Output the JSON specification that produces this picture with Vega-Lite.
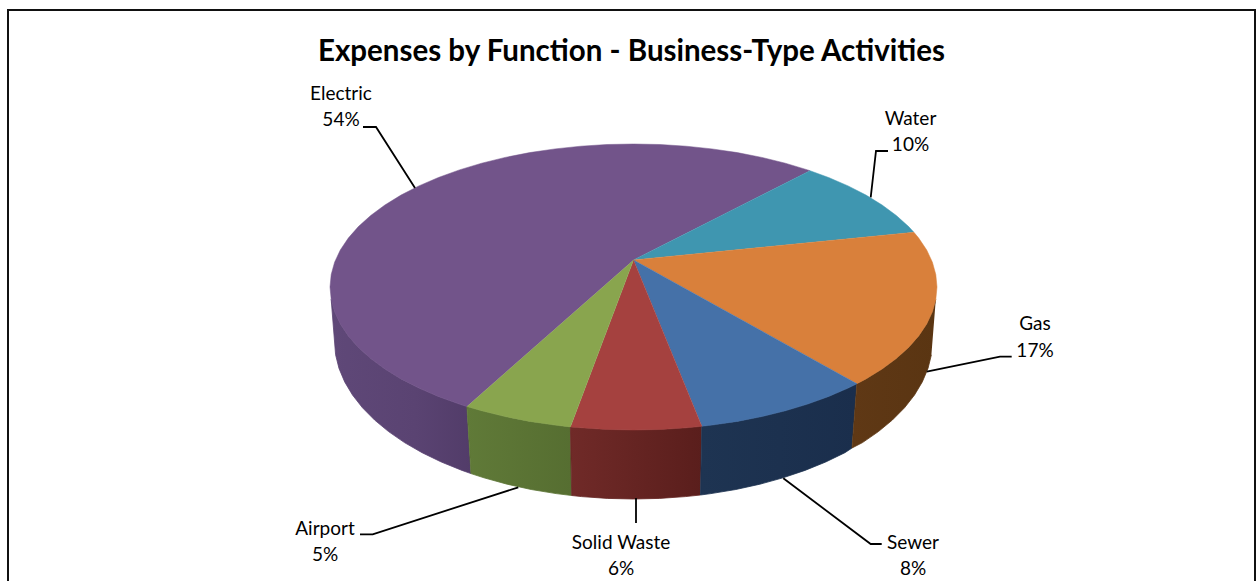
{
"$schema":"https://vega.github.io/schema/vega-lite/v6.json",
"width":1257,"height":581,"padding":0,
"autosize":"none",
"background":"white",
"config":{"view":{"stroke":null}},
"datasets":{
"faces":[
{"s":"Electric","x":0,"y":-27},{"s":"Electric","x":-166.6,"y":119.5},{"s":"Electric","x":-174.1,"y":117.1},{"s":"Electric","x":-195.1,"y":109.5},{"s":"Electric","x":-214.6,"y":101.1},{"s":"Electric","x":-232.5,"y":91.9},{"s":"Electric","x":-248.6,"y":82},{"s":"Electric","x":-262.8,"y":71.5},{"s":"Electric","x":-275.1,"y":60.4},{"s":"Electric","x":-285.2,"y":48.9},{"s":"Electric","x":-293.2,"y":37},{"s":"Electric","x":-298.9,"y":24.8},{"s":"Electric","x":-302.3,"y":12.5},{"s":"Electric","x":-303.5,"y":0},{"s":"Electric","x":-302.3,"y":-12.5},{"s":"Electric","x":-298.9,"y":-24.8},{"s":"Electric","x":-293.2,"y":-37},{"s":"Electric","x":-285.2,"y":-48.9},{"s":"Electric","x":-275.1,"y":-60.4},{"s":"Electric","x":-262.8,"y":-71.5},{"s":"Electric","x":-248.6,"y":-82},{"s":"Electric","x":-232.5,"y":-91.9},{"s":"Electric","x":-214.6,"y":-101.1},{"s":"Electric","x":-195.1,"y":-109.5},{"s":"Electric","x":-174.1,"y":-117.1},{"s":"Electric","x":-151.8,"y":-123.8},{"s":"Electric","x":-128.3,"y":-129.6},{"s":"Electric","x":-103.8,"y":-134.4},{"s":"Electric","x":-78.5,"y":-138.1},{"s":"Electric","x":-52.7,"y":-140.8},{"s":"Electric","x":-26.5,"y":-142.5},{"s":"Electric","x":0,"y":-143},{"s":"Electric","x":26.5,"y":-142.5},{"s":"Electric","x":52.7,"y":-140.8},{"s":"Electric","x":78.5,"y":-138.1},{"s":"Electric","x":103.8,"y":-134.4},{"s":"Electric","x":128.3,"y":-129.6},{"s":"Electric","x":151.8,"y":-123.8},{"s":"Electric","x":174.1,"y":-117.1},{"s":"Electric","x":176.5,"y":-116.3},
{"s":"Water","x":0,"y":-27},{"s":"Water","x":176.5,"y":-116.3},{"s":"Water","x":195.1,"y":-109.5},{"s":"Water","x":214.6,"y":-101.1},{"s":"Water","x":232.5,"y":-91.9},{"s":"Water","x":248.6,"y":-82},{"s":"Water","x":262.8,"y":-71.5},{"s":"Water","x":275.1,"y":-60.4},{"s":"Water","x":280.4,"y":-54.7},
{"s":"Gas","x":0,"y":-27},{"s":"Gas","x":280.4,"y":-54.7},{"s":"Gas","x":285.2,"y":-48.9},{"s":"Gas","x":293.2,"y":-37},{"s":"Gas","x":298.9,"y":-24.8},{"s":"Gas","x":302.3,"y":-12.5},{"s":"Gas","x":303.5,"y":0},{"s":"Gas","x":302.3,"y":12.5},{"s":"Gas","x":298.9,"y":24.8},{"s":"Gas","x":293.2,"y":37},{"s":"Gas","x":285.2,"y":48.9},{"s":"Gas","x":275.1,"y":60.4},{"s":"Gas","x":262.8,"y":71.5},{"s":"Gas","x":248.6,"y":82},{"s":"Gas","x":232.5,"y":91.9},{"s":"Gas","x":223.4,"y":96.8},
{"s":"Sewer","x":0,"y":-27},{"s":"Sewer","x":223.4,"y":96.8},{"s":"Sewer","x":214.6,"y":101.1},{"s":"Sewer","x":195.1,"y":109.5},{"s":"Sewer","x":174.1,"y":117.1},{"s":"Sewer","x":151.8,"y":123.8},{"s":"Sewer","x":128.3,"y":129.6},{"s":"Sewer","x":103.8,"y":134.4},{"s":"Sewer","x":78.5,"y":138.1},{"s":"Sewer","x":68.3,"y":139.3},
{"s":"Solid Waste","x":0,"y":-27},{"s":"Solid Waste","x":68.3,"y":139.3},{"s":"Solid Waste","x":52.7,"y":140.8},{"s":"Solid Waste","x":26.5,"y":142.5},{"s":"Solid Waste","x":0,"y":143},{"s":"Solid Waste","x":-26.5,"y":142.5},{"s":"Solid Waste","x":-52.7,"y":140.8},{"s":"Solid Waste","x":-63.1,"y":139.9},
{"s":"Airport","x":0,"y":-27},{"s":"Airport","x":-63.1,"y":139.9},{"s":"Airport","x":-78.5,"y":138.1},{"s":"Airport","x":-103.8,"y":134.4},{"s":"Airport","x":-128.3,"y":129.6},{"s":"Airport","x":-151.8,"y":123.8},{"s":"Airport","x":-166.6,"y":119.5}
],
"walls":[
{"s":"Gas","x":302.3,"y":12.5},{"s":"Gas","x":298.9,"y":24.8},{"s":"Gas","x":293.2,"y":37},{"s":"Gas","x":285.2,"y":48.9},{"s":"Gas","x":275.1,"y":60.4},{"s":"Gas","x":262.8,"y":71.5},{"s":"Gas","x":248.6,"y":82},{"s":"Gas","x":232.5,"y":91.9},{"s":"Gas","x":223.4,"y":96.8},{"s":"Gas","x":218.5,"y":161},{"s":"Gas","x":229,"y":155.6},{"s":"Gas","x":244.9,"y":144.6},{"s":"Gas","x":258.9,"y":133},{"s":"Gas","x":271,"y":120.8},{"s":"Gas","x":281,"y":108},{"s":"Gas","x":288.8,"y":94.9},{"s":"Gas","x":294.5,"y":81.4},{"s":"Gas","x":297.9,"y":67.8},
{"s":"Sewer","x":223.4,"y":96.8},{"s":"Sewer","x":214.6,"y":101.1},{"s":"Sewer","x":195.1,"y":109.5},{"s":"Sewer","x":174.1,"y":117.1},{"s":"Sewer","x":151.8,"y":123.8},{"s":"Sewer","x":128.3,"y":129.6},{"s":"Sewer","x":103.8,"y":134.4},{"s":"Sewer","x":78.5,"y":138.1},{"s":"Sewer","x":68.3,"y":139.3},{"s":"Sewer","x":67,"y":208},{"s":"Sewer","x":77.4,"y":206.6},{"s":"Sewer","x":102.3,"y":202.5},{"s":"Sewer","x":126.4,"y":197.2},{"s":"Sewer","x":149.5,"y":190.8},{"s":"Sewer","x":171.5,"y":183.4},{"s":"Sewer","x":192.2,"y":175},{"s":"Sewer","x":211.4,"y":165.7},{"s":"Sewer","x":218.5,"y":161},
{"s":"Solid Waste","x":68.3,"y":139.3},{"s":"Solid Waste","x":52.7,"y":140.8},{"s":"Solid Waste","x":26.5,"y":142.5},{"s":"Solid Waste","x":0,"y":143},{"s":"Solid Waste","x":-26.5,"y":142.5},{"s":"Solid Waste","x":-52.7,"y":140.8},{"s":"Solid Waste","x":-63.1,"y":139.9},{"s":"Solid Waste","x":-61.8,"y":208.5},{"s":"Solid Waste","x":-51.9,"y":209.6},{"s":"Solid Waste","x":-26.1,"y":211.4},{"s":"Solid Waste","x":0,"y":212},{"s":"Solid Waste","x":26.1,"y":211.4},{"s":"Solid Waste","x":51.9,"y":209.6},{"s":"Solid Waste","x":67,"y":208},
{"s":"Airport","x":-63.1,"y":139.9},{"s":"Airport","x":-78.5,"y":138.1},{"s":"Airport","x":-103.8,"y":134.4},{"s":"Airport","x":-128.3,"y":129.6},{"s":"Airport","x":-151.8,"y":123.8},{"s":"Airport","x":-166.6,"y":119.5},{"s":"Airport","x":-162.5,"y":186.6},{"s":"Airport","x":-149.5,"y":190.8},{"s":"Airport","x":-126.4,"y":197.2},{"s":"Airport","x":-102.3,"y":202.5},{"s":"Airport","x":-77.4,"y":206.6},{"s":"Airport","x":-61.8,"y":208.5},
{"s":"Electric","x":-166.6,"y":119.5},{"s":"Electric","x":-174.1,"y":117.1},{"s":"Electric","x":-195.1,"y":109.5},{"s":"Electric","x":-214.6,"y":101.1},{"s":"Electric","x":-232.5,"y":91.9},{"s":"Electric","x":-248.6,"y":82},{"s":"Electric","x":-262.8,"y":71.5},{"s":"Electric","x":-275.1,"y":60.4},{"s":"Electric","x":-285.2,"y":48.9},{"s":"Electric","x":-293.2,"y":37},{"s":"Electric","x":-298.9,"y":24.8},{"s":"Electric","x":-302.3,"y":12.5},{"s":"Electric","x":-297.9,"y":67.8},{"s":"Electric","x":-294.5,"y":81.4},{"s":"Electric","x":-288.8,"y":94.9},{"s":"Electric","x":-281,"y":108},{"s":"Electric","x":-271,"y":120.8},{"s":"Electric","x":-258.9,"y":133},{"s":"Electric","x":-244.9,"y":144.6},{"s":"Electric","x":-229,"y":155.6},{"s":"Electric","x":-211.4,"y":165.7},{"s":"Electric","x":-192.2,"y":175},{"s":"Electric","x":-171.5,"y":183.4},{"s":"Electric","x":-162.5,"y":186.6}
],
"leaders":[
{"s":"Electric","x":-270.5,"y":-160},{"s":"Electric","x":-257.5,"y":-160},{"s":"Electric","x":-218.5,"y":-99},
{"s":"Water","x":254.5,"y":-136},{"s":"Water","x":242.5,"y":-136},{"s":"Water","x":237.2,"y":-89.7},
{"s":"Gas","x":378.2,"y":69.7},{"s":"Gas","x":366.5,"y":69.7},{"s":"Gas","x":293.2,"y":84.7},
{"s":"Sewer","x":248.2,"y":257},{"s":"Sewer","x":237.2,"y":257},{"s":"Sewer","x":149.8,"y":191.3},
{"s":"Solid Waste","x":2.5,"y":211},{"s":"Solid Waste","x":2.5,"y":236},
{"s":"Airport","x":-273.5,"y":247.3},{"s":"Airport","x":-260.8,"y":247.3},{"s":"Airport","x":-115.2,"y":200.3}
],
"frame":[{"x":-625.5,"y":294},{"x":-625.5,"y":-277},{"x":621.5,"y":-277},{"x":621.5,"y":294}],
"labels":[
{"s":"Electric","value":0.54,"x":-292.5,"y1":-193,"y2":-167},
{"s":"Water","value":0.10,"x":277,"y1":-168,"y2":-142},
{"s":"Gas","value":0.17,"x":401.5,"y1":37,"y2":64},
{"s":"Sewer","value":0.08,"x":279.5,"y1":256,"y2":282},
{"s":"Solid Waste","value":0.06,"x":-12.5,"y1":256,"y2":282},
{"s":"Airport","value":0.05,"x":-308.5,"y1":242,"y2":268}
],
"heading":[{"t":"Expenses by Function - Business-Type Activities","x":-2,"y":-235}]
},
"encoding":{
"x":{"field":"x","type":"quantitative","axis":null,"scale":{"domain":[-633.5,623.5],"nice":false,"zero":false}},
"y":{"field":"y","type":"quantitative","axis":null,"scale":{"domain":[-287,294],"reverse":true,"nice":false,"zero":false}}
},
"layer":[
{"data":{"name":"frame"},"mark":{"type":"line","stroke":"#111111","strokeWidth":2},"encoding":{"order":{"value":null}}},
{"data":{"name":"walls"},"transform":[{"filter":"datum.s==='Electric'"}],
 "mark":{"type":"line","strokeWidth":0.8,"stroke":"#5a4372","fill":{"gradient":"linear","x1":0,"x2":1,"y1":0,"y2":0,"stops":[{"offset":0,"color":"#5f4878"},{"offset":0.6,"color":"#5a4372"},{"offset":1,"color":"#523c69"}]}},"encoding":{"order":{"value":null}}},
{"data":{"name":"walls"},"transform":[{"filter":"datum.s==='Airport'"}],
 "mark":{"type":"line","strokeWidth":0.8,"stroke":"#5b7434","fill":{"gradient":"linear","x1":0,"x2":1,"y1":0,"y2":0,"stops":[{"offset":0,"color":"#607a38"},{"offset":1,"color":"#566e31"}]}},"encoding":{"order":{"value":null}}},
{"data":{"name":"walls"},"transform":[{"filter":"datum.s==='Solid Waste'"}],
 "mark":{"type":"line","strokeWidth":0.8,"stroke":"#652422","fill":{"gradient":"linear","x1":0,"x2":1,"y1":0,"y2":0,"stops":[{"offset":0,"color":"#702a28"},{"offset":1,"color":"#5a1e1c"}]}},"encoding":{"order":{"value":null}}},
{"data":{"name":"walls"},"transform":[{"filter":"datum.s==='Sewer'"}],
 "mark":{"type":"line","strokeWidth":0.8,"stroke":"#1c314f","fill":{"gradient":"linear","x1":0,"x2":1,"y1":0,"y2":0,"stops":[{"offset":0,"color":"#1e3452"},{"offset":1,"color":"#1a2e4c"}]}},"encoding":{"order":{"value":null}}},
{"data":{"name":"walls"},"transform":[{"filter":"datum.s==='Gas'"}],
 "mark":{"type":"line","strokeWidth":0.8,"stroke":"#5d3714","fill":{"gradient":"linear","x1":0,"x2":1,"y1":0,"y2":0,"stops":[{"offset":0,"color":"#5f3815"},{"offset":1,"color":"#5a3512"}]}},"encoding":{"order":{"value":null}}},
{"data":{"name":"faces"},"mark":{"type":"line","strokeWidth":0.5},
 "encoding":{"order":{"value":null},
 "detail":{"field":"s"},
 "fill":{"field":"s","type":"nominal","legend":null,"scale":{"domain":["Electric","Water","Gas","Sewer","Solid Waste","Airport"],"range":["#72548a","#3f96b0","#d9803b","#4571a8","#a5413f","#89a54e"]}},
 "stroke":{"field":"s","type":"nominal","legend":null,"scale":{"domain":["Electric","Water","Gas","Sewer","Solid Waste","Airport"],"range":["#72548a","#3f96b0","#d9803b","#4571a8","#a5413f","#89a54e"]}}}},
{"data":{"name":"leaders"},"mark":{"type":"line","stroke":"#000000","strokeWidth":1.8},"encoding":{"order":{"value":null},"detail":{"field":"s"}}},
{"data":{"name":"labels"},"mark":{"type":"text","font":"Lato","fontSize":19,"color":"#000000"},
 "encoding":{"y":{"field":"y1","type":"quantitative"},"text":{"field":"s"}}},
{"data":{"name":"labels"},"mark":{"type":"text","font":"Lato","fontSize":19,"color":"#000000"},
 "encoding":{"y":{"field":"y2","type":"quantitative"},"text":{"field":"value","format":".0%"}}},
{"data":{"name":"heading"},"mark":{"type":"text","font":"Lato","fontSize":29.5,"fontWeight":"bold","color":"#000000"},
 "encoding":{"text":{"field":"t"}}}
]
}
